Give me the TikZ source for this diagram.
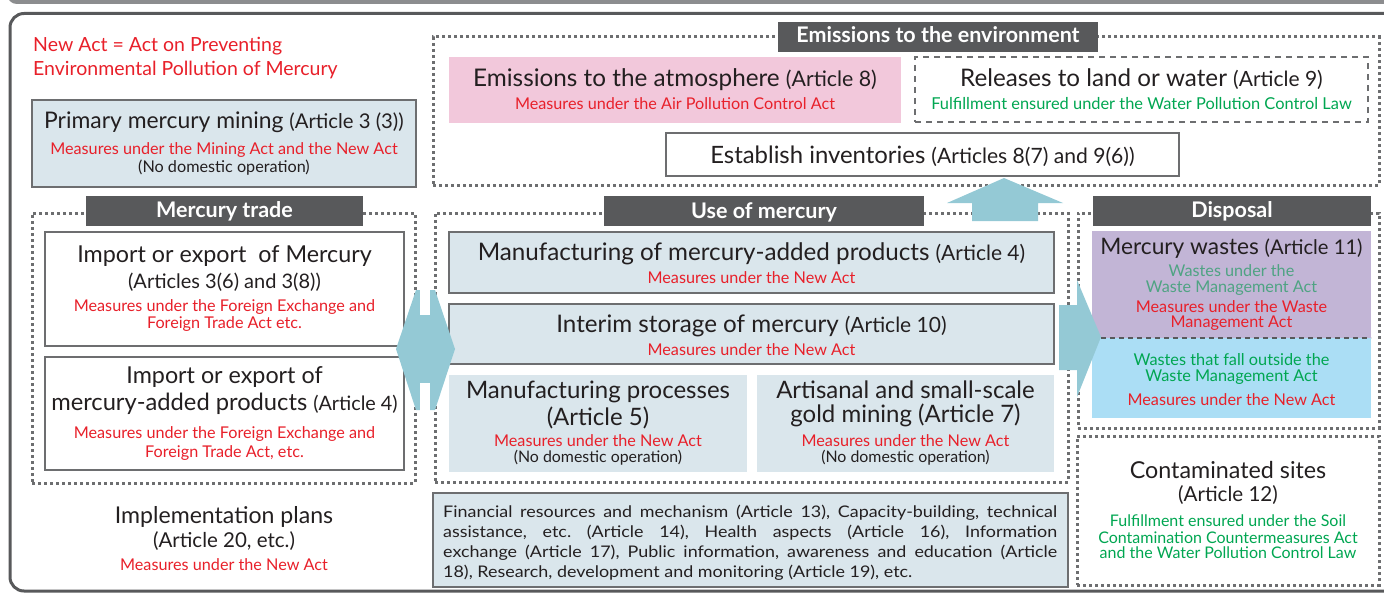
\documentclass[tikz,border=0pt]{standalone}
\usepackage{fontspec}
\setmainfont{Lato}
\newfontfamily\widef[FakeStretch=1.12]{Lato}
\frenchspacing
\definecolor{redt}{HTML}{E8202A}
\definecolor{greent}{HTML}{00A651}
\definecolor{tealt}{HTML}{4FA383}
\definecolor{darkt}{HTML}{231F20}
\definecolor{labbg}{HTML}{58595B}
\definecolor{boxfill}{HTML}{DAE6EC}
\definecolor{pinkf}{HTML}{F2C8DB}
\definecolor{purplef}{HTML}{C2B5D6}
\definecolor{bluef}{HTML}{ABDEF5}
\definecolor{arrowf}{HTML}{94C9D5}
\definecolor{edgeg}{HTML}{6D6E70}
\definecolor{topband}{HTML}{8C8D8F}
\newcommand\bx[6]{\node[#2, anchor=north west, minimum width={(#5-#3)*1pt}, minimum height={(#6-#4)*1pt}, inner sep=0pt, outer sep=0pt] (#1) at (#3,#4) {};}
\newcommand\fsz[1]{\fontsize{#1}{#1}\selectfont}
\newcommand\Ttl{\fsz{23.3}}
\newcommand\Art{\fsz{20.5}}
\newcommand\Rd{\fsz{16.2}\color{redt}}
\newcommand\Gr{\fsz{16.3}\color{greent}}
\newcommand\Sm{\fsz{16.2}}
\newcommand\Lab{\fsz{21.5}\bfseries\color{white}}
\begin{document}
\begin{tikzpicture}[x=1pt,y=-1pt,
  txt/.style={inner sep=0pt, anchor=base, text=darkt},
  dotbox/.style={draw=edgeg, line width=3pt, dash pattern=on 3pt off 3pt},
  labbox/.style={fill=labbg},
  fillbox/.style={fill=boxfill, draw=edgeg, line width=1.5pt},
  fillnob/.style={fill=boxfill},
  whitebox/.style={fill=white, draw=edgeg, line width=1.5pt},
  pinkbox/.style={fill=pinkf},
  purplebox/.style={fill=purplef},
  bluebox/.style={fill=bluef},
  dashbox/.style={draw=edgeg, line width=1.5pt, dash pattern=on 6pt off 5pt}]
\useasboundingbox (0,0) rectangle (1384,594);
% frames
\draw[topband, line width=4pt, rounded corners=8pt] (9,-30) -- (9,2) -- (1400,2);
\draw[labbg, line width=3pt, rounded corners=14pt] (10,13.5) rectangle (1400,591);
% dotted groups
\bx{envgrp}{dotbox}{433}{37}{1379}{185}
\bx{tradegrp}{dotbox}{32}{213}{415}{483}
\bx{usegrp}{dotbox}{435}{213}{1068}{482}
\bx{dispgrp}{dotbox}{1078}{213}{1379}{428}
\bx{contgrp}{dotbox}{1077}{436}{1379}{585}
% labels
\bx{envlab}{labbox}{778}{22}{1098}{52}
\node[txt] (envlabt) at (938,43) {\Lab Emissions to the environment};
\bx{tradelab}{labbox}{86}{196}{363}{226}
\node[txt] (tradelabt) at (224.5,217) {\Lab Mercury trade};
\bx{uselab}{labbox}{604}{196}{924}{226}
\node[txt] (uselabt) at (764,218) {\Lab Use of mercury};
\bx{displab}{labbox}{1093}{196}{1371}{226}
\node[txt] (displabt) at (1232,217) {\Lab Disposal};
% new act note
\node[txt, anchor=base west, text=redt] (newact1) at (33,52) {\fsz{19.5}New Act = Act on Preventing};
\node[txt, anchor=base west, text=redt] (newact2) at (33,75) {\fsz{19.5}Environmental Pollution of Mercury};
% primary mining
\bx{mining}{fillbox}{32}{100}{416}{187}
\node[txt] (mining1) at (224,128) {\fsz{22.9}Primary mercury mining \fsz{20.3}(Article 3 (3))};
\node[txt] (mining2) at (224,154) {\Rd Measures under the Mining Act and the New Act};
\node[txt] (mining3) at (224,172) {\Sm (No domestic operation)};
% emissions
\bx{atm}{pinkbox}{449}{57}{901}{123}
\node[txt] (atm1) at (675,87) {\fsz{24.3}Emissions to the atmosphere \fsz{21.3}(Article 8)};
\node[txt] (atm2) at (675,109) {\Rd Measures under the Air Pollution Control Act};
\bx{rel}{dashbox}{915}{57}{1368}{122}
\node[txt] (rel1) at (1141.5,87) {\fsz{24.2}Releases to land or water \fsz{21}(Article 9)};
\node[txt] (rel2) at (1141.5,109) {\fsz{16.4}\color{greent}Fulfillment ensured under the Water Pollution Control Law};
\bx{inv}{whitebox}{666}{133}{1179}{176}
\node[txt] (inv1) at (922.5,163) {\fsz{23.9}Establish inventories \fsz{21.1}(Articles 8(7) and 9(6))};
% trade
\bx{impm}{whitebox}{45}{232}{404}{346}
\node[txt] (impm1) at (224.5,262) {\Ttl Import or export\ \ of Mercury};
\node[txt] (impm2) at (224.5,288) {\fsz{20}(Articles 3(6) and 3(8))};
\node[txt] (impm3) at (224.5,311) {\Rd Measures under the Foreign Exchange and};
\node[txt] (impm4) at (224.5,328) {\Rd Foreign Trade Act etc.};
\bx{impp}{whitebox}{45}{357}{404}{470}
\node[txt] (impp1) at (224.5,383) {\Ttl Import or export of};
\node[txt] (impp2) at (224.5,410) {\fsz{23.7}mercury-added products \fsz{19.8}(Article 4)};
\node[txt] (impp3) at (224.5,438) {\Rd Measures under the Foreign Exchange and};
\node[txt] (impp4) at (224.5,457) {\Rd Foreign Trade Act, etc.};
% implementation
\node[txt] (impl1) at (224,523) {\fsz{23.1}Implementation plans};
\node[txt] (impl2) at (224,547) {\Art (Article 20, etc.)};
\node[txt] (impl3) at (224,570) {\Rd Measures under the New Act};
% use of mercury
\bx{mprod}{fillbox}{449}{232}{1054}{293}
\node[txt] (mprod1) at (751.5,260) {\fsz{24.2}Manufacturing of mercury-added products \fsz{21}(Article 4)};
\node[txt] (mprod2) at (751.5,283) {\Rd Measures under the New Act};
\bx{interim}{fillbox}{449}{304}{1054}{364}
\node[txt] (interim1) at (751.5,332) {\fsz{24.2}Interim storage of mercury \fsz{21}(Article 10)};
\node[txt] (interim2) at (751.5,355) {\Rd Measures under the New Act};
\bx{mproc}{fillnob}{449}{375}{747}{472}
\node[txt] (mproc1) at (598,398) {\fsz{24}Manufacturing processes};
\node[txt] (mproc2) at (598,425) {\fsz{24}(Article 5)};
\node[txt] (mproc3) at (598,446) {\Rd Measures under the New Act};
\node[txt] (mproc4) at (598,462) {\fsz{15.9}(No domestic operation)};
\bx{asgm}{fillnob}{757}{375}{1054}{472}
\node[txt] (asgm1) at (905.5,398) {\fsz{24}Artisanal and small-scale};
\node[txt] (asgm2) at (905.5,422) {\fsz{24}gold mining (Article 7)};
\node[txt] (asgm3) at (905.5,446) {\Rd Measures under the New Act};
\node[txt] (asgm4) at (905.5,462) {\fsz{15.9}(No domestic operation)};
% financial
\bx{fin}{fillbox}{433}{493}{1068}{587}
\node[txt, anchor=base west] (fin1) at (443,517) {\widef\fsz{16}\makebox[614pt][s]{Financial resources and mechanism (Article 13), Capacity-building, technical}};
\node[txt, anchor=base west] (fin2) at (443,537) {\widef\fsz{16}\makebox[614pt][s]{assistance, etc. (Article 14), Health aspects (Article 16), Information}};
\node[txt, anchor=base west] (fin3) at (443,557) {\widef\fsz{16}\makebox[614pt][s]{exchange (Article 17), Public information, awareness and education (Article}};
\node[txt, anchor=base west] (fin4) at (443,577) {\widef\fsz{16}18), Research, development and monitoring (Article 19), etc.};
% disposal
\bx{mw}{purplebox}{1092}{231}{1371}{338}
\node[txt] (mw1) at (1231.5,254) {\fsz{22.7}Mercury wastes \fsz{20.2}(Article 11)};
\node[txt, text=tealt] (mw2) at (1231.5,276) {\fsz{16.2}Wastes under the};
\node[txt, text=tealt] (mw3) at (1231.5,292) {\fsz{16.2}Waste Management Act};
\node[txt] (mw4) at (1231.5,312) {\Rd Measures under the Waste};
\node[txt] (mw5) at (1231.5,327) {\Rd Management Act};
\bx{mwo}{bluebox}{1092}{338}{1371}{418}
\draw[labbg, line width=1.5pt, dash pattern=on 5pt off 4pt] (mw.south west) -- (mw.south east);
\node[txt] (mwo1) at (1231.5,365) {\Gr Wastes that fall outside the};
\node[txt] (mwo2) at (1231.5,381) {\Gr Waste Management Act};
\node[txt] (mwo3) at (1231.5,405) {\Rd Measures under the New Act};
% contaminated
\node[txt] (cont1) at (1228,478) {\Ttl Contaminated sites};
\node[txt] (cont2) at (1228,501) {\fsz{20.6}(Article 12)};
\node[txt] (cont3) at (1228,526) {\fsz{16}\color{greent}Fulfillment ensured under the Soil};
\node[txt] (cont4) at (1228,543) {\fsz{16}\color{greent}Contamination Countermeasures Act};
\node[txt] (cont5) at (1228,558) {\fsz{16}\color{greent}and the Water Pollution Control Law};
% arrows
\fill[arrowf] (396,349) -- (416,290) -- (435,290) -- (455,349) -- (435,410) -- (416,410) -- cycle;
\fill[white] (420,288) rectangle (430,315);
\fill[white] (420,383) rectangle (430,412);
\fill[arrowf] (1059,305) -- (1077,305) -- (1077,280) -- (1101,337) -- (1077,397) -- (1077,370) -- (1059,370) -- cycle;
\fill[arrowf] (972,221) -- (972,203) -- (947,203) -- (1004,178) -- (1063,203) -- (1038,203) -- (1038,221) -- cycle;
\end{tikzpicture}
\end{document}
